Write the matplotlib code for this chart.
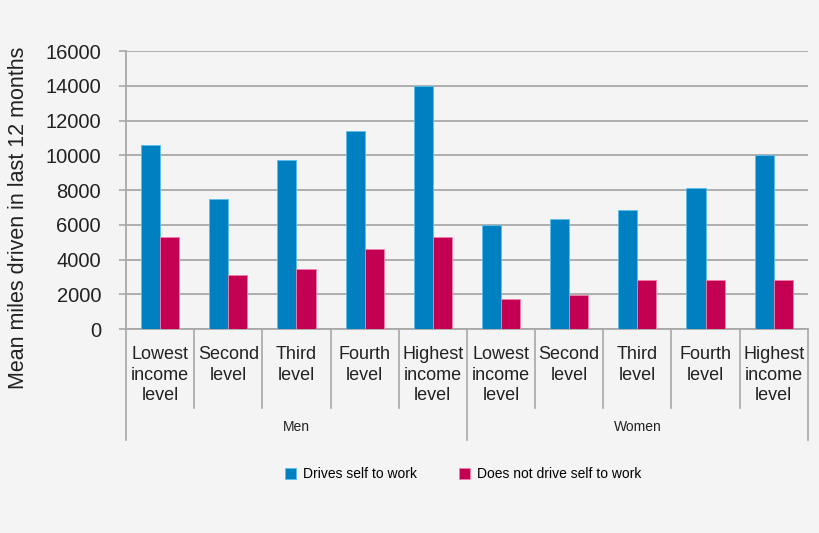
import numpy as np
import matplotlib
matplotlib.use("Agg")
import matplotlib.pyplot as plt

plt.rcParams['font.family'] = ['Liberation Sans', 'DejaVu Sans']

# data
categories = ["Lowest\nincome\nlevel", "Second\nlevel", "Third\nlevel", "Fourth\nlevel",
              "Highest\nincome\nlevel"] * 2
groups = ["Men", "Women"]
drives_self = [10600, 7500, 9750, 11400, 14000, 6000, 6350, 6850, 8100, 10000]
not_drive_self = [5300, 3100, 3450, 4600, 5300, 1700, 1950, 2800, 2800, 2800]
series_names = ["Drives self to work", "Does not drive self to work"]
yticks = [0, 2000, 4000, 6000, 8000, 10000, 12000, 14000, 16000]

blue = "#0080c0"
red = "#c40052"
bg = "#f4f4f4"
line_col = "#a8a8a8"

fig = plt.figure(figsize=(8.2, 5.33), dpi=100, facecolor=bg)
ax = fig.add_axes([0.1537, 0.3827, 0.8315, 0.5216], facecolor=bg)

x = np.arange(len(categories))
w = 0.28
ax.bar(x - w / 2, drives_self, w, color=blue, edgecolor="#5cc0ee", linewidth=0.6,
       label=series_names[0], zorder=3)
ax.bar(x + w / 2, not_drive_self, w, color=red, edgecolor="#f080a8", linewidth=0.6,
       label=series_names[1], zorder=3)

ax.set_xlim(-0.5, len(categories) - 0.5)
ax.set_ylim(0, 16000)
ax.set_yticks(yticks)
ax.set_yticklabels([str(v) for v in yticks], fontsize=14.5, color="#222222")
ax.yaxis.grid(True, color=line_col, linewidth=1.3, zorder=0)
ax.tick_params(axis="y", length=5, color=line_col, width=1.2, pad=13)

ax.set_xticks(x)
ax.set_xticklabels(categories, fontsize=13, color="#222222", linespacing=1.3,
                   va="top")
ax.tick_params(axis="x", length=0, pad=12)

for s in ["top", "right"]:
    ax.spines[s].set_visible(False)
for s in ["left", "bottom"]:
    ax.spines[s].set_color(line_col)
    ax.spines[s].set_linewidth(1.3)

ax.set_ylabel("Mean miles driven in last 12 months", fontsize=15.5, color="#222222")
ax.yaxis.set_label_coords(-0.143, 0.40)

# category separators and group separators below the axis
trans = ax.get_xaxis_transform()
for b in np.arange(0.5, len(categories) - 1, 1.0):
    if b == 4.5:
        continue
    ax.plot([b, b], [0, -0.285], transform=trans, color=line_col, lw=1.2, clip_on=False)
for b in [-0.5, 4.5, len(categories) - 0.5]:
    ax.plot([b, b], [0, -0.40], transform=trans, color=line_col, lw=1.2, clip_on=False)
for i, g in enumerate(groups):
    ax.text(2 + 5 * i, -0.352, g, transform=trans, ha="center", va="center",
            fontsize=10, color="#222222")

fig.legend(loc="center", bbox_to_anchor=(0.565, 0.110), ncol=2, frameon=False,
           fontsize=10, handlelength=0.8, handleheight=0.8, columnspacing=3.0,
           handletextpad=0.5)

fig.savefig("out.png", dpi=100, facecolor=bg)
